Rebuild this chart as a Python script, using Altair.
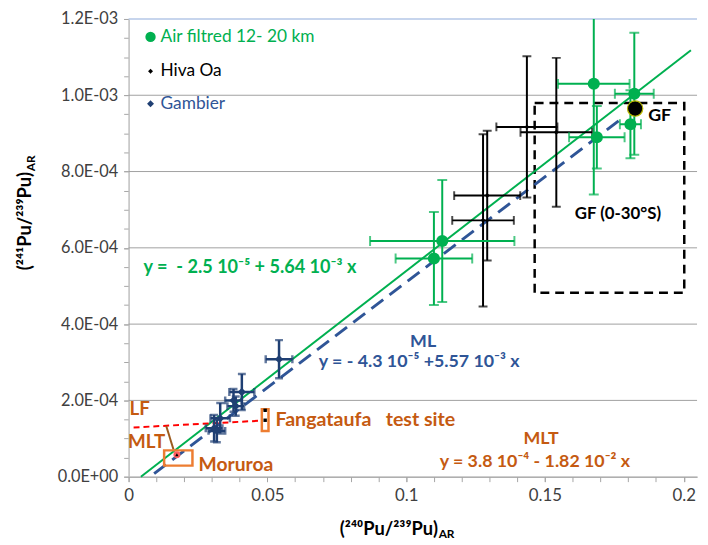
import altair as alt
import pandas as pd

FONT = "Lato"

# ---------------- data ----------------
# Air filtred 12-20 km (green)
green_x = [0.113, 0.110, 0.1676, 0.1687, 0.1822, 0.1808]
green_y = [6.18e-4, 5.72e-4, 1.030e-3, 8.90e-4, 1.004e-3, 9.24e-4]
green_xerr = [0.026, 0.0138, 0.0129, 0.0100, 0.0070, 0.0038]
green_yerr = [1.6e-4, 1.22e-4, 2.9e-4, 8.2e-5, 1.6e-4, 8.9e-5]

# Hiva Oa (black)
hiva_x = [0.1292, 0.1277, 0.1435, 0.1541]
hiva_y = [7.37e-4, 6.72e-4, 9.17e-4, 9.03e-4]
hiva_xerr = [0.0119, 0.0111, 0.0110, 0.0129]
hiva_yerr = [1.70e-4, 2.26e-4, 1.85e-4, 1.95e-4]

# Gambier (dark blue)
gam_x = [0.0542, 0.0408, 0.0386, 0.0378, 0.0330, 0.0308, 0.0318]
gam_y = [3.08e-4, 2.22e-4, 1.85e-4, 2.00e-4, 1.53e-4, 1.27e-4, 1.20e-4]
gam_xerr = [0.0048, 0.0045, 0.0030, 0.0030, 0.0035, 0.0030, 0.0030]
gam_yerr = [5.0e-5, 4.7e-5, 2.5e-5, 3.0e-5, 4.0e-5, 3.5e-5, 3.0e-5]

# GF point
gf_x = [0.1825]
gf_y = [9.65e-4]

# Moruroa / Fangataufa
mur_x = [0.0174]
mur_y = [5.77e-5]
fang_x = [0.0492, 0.0492]
fang_y = [1.74e-4, 1.48e-4]
mur_box = [0.0128, 0.0230, 2.9e-5, 6.9e-5]
fang_box = [0.0480, 0.0504, 1.20e-4, 1.77e-4]
gf_box = [0.1463, 0.2002, 4.82e-4, 9.80e-4]

# fitted lines (end points)
green_line_x = [0.00443, 0.2026]
green_line_y = [0.0, 1.118e-3]
blue_line_x = [0.0092, 0.178]
blue_line_y = [8e-6, 9.41e-4]
red_line_x = [0.0018, 0.048]
red_line_y = [1.29e-4, 1.47e-4]
brown_line_x = [0.01356, 0.0162]
brown_line_y = [1.327e-4, 7.06e-5]

# axes
x_minor = [round(i * 0.01, 2) for i in range(0, 21)]
x_major = [0, 0.05, 0.1, 0.15, 0.2]
y_minor = [round(i * 5e-5, 6) for i in range(0, 25)]
y_major = [0, 2e-4, 4e-4, 6e-4, 8e-4, 1e-3, 1.2e-3]
y_labels = ["0.0E+00", "2.0E-04", "4.0E-04", "6.0E-04", "8.0E-04", "1.0E-03", "1.2E-03"]
y_grid = [2e-4, 4e-4, 6e-4, 8e-4, 1e-3]
y_top = [1.2e-3]

X_DOM = [0, 0.2048]
Y_DOM = [0, 0.0012]

GREEN = "#00B050"
BLUE = "#1F3F73"
BLUE_LINE = "#2F5597"
BROWN = "#C55A11"
ORANGE = "#ED7D31"
AX = "#A6A6A6"

xs = alt.Scale(domain=X_DOM, nice=False, zero=False)
ys = alt.Scale(domain=Y_DOM, nice=False, zero=False)

# --------------- helpers ----------------
def err_frames(xv, yv, xe, ye):
    d = pd.DataFrame({"x": xv, "y": yv, "xe": xe, "ye": ye})
    d["xlo"] = d.x - d.xe
    d["xhi"] = d.x + d.xe
    d["ylo"] = d.y - d.ye
    d["yhi"] = d.y + d.ye
    return d


def errbars(d, color, width=2, cap=9):
    base = alt.Chart(d)
    v = base.mark_rule(color=color, strokeWidth=width, clip=True).encode(
        x=alt.X("x:Q", scale=xs), y=alt.Y("ylo:Q", scale=ys), y2="yhi:Q")
    h = base.mark_rule(color=color, strokeWidth=width, clip=True).encode(
        x=alt.X("xlo:Q", scale=xs), x2="xhi:Q", y=alt.Y("y:Q", scale=ys))
    caps_v = pd.concat([
        pd.DataFrame({"cx": d.x, "cy": d.ylo}),
        pd.DataFrame({"cx": d.x, "cy": d.yhi})])
    caps_h = pd.concat([
        pd.DataFrame({"cx": d.xlo, "cy": d.y}),
        pd.DataFrame({"cx": d.xhi, "cy": d.y})])
    cv = alt.Chart(caps_v).mark_tick(color=color, orient="horizontal", size=cap,
                                     thickness=width, clip=True).encode(
        x=alt.X("cx:Q", scale=xs), y=alt.Y("cy:Q", scale=ys))
    ch = alt.Chart(caps_h).mark_tick(color=color, orient="vertical", size=cap,
                                     thickness=width, clip=True).encode(
        x=alt.X("cx:Q", scale=xs), y=alt.Y("cy:Q", scale=ys))
    return [v, h, cv, ch]


def line(xv, yv, color, width=2, dash=None):
    kw = dict(color=color, strokeWidth=width)
    if dash:
        kw["strokeDash"] = dash
    return alt.Chart(pd.DataFrame({"x": xv, "y": yv})).mark_line(**kw).encode(
        x=alt.X("x:Q", scale=xs), y=alt.Y("y:Q", scale=ys))


def box(b, color, width=2, dash=None):
    kw = dict(stroke=color, strokeWidth=width, fill=None, fillOpacity=0)
    if dash:
        kw["strokeDash"] = dash
    return alt.Chart(pd.DataFrame({"x1": [b[0]], "x2": [b[1]], "y1": [b[2]], "y2": [b[3]]})).mark_rect(**kw).encode(
        x=alt.X("x1:Q", scale=xs), x2="x2:Q", y=alt.Y("y1:Q", scale=ys), y2="y2:Q")


def pts(xv, yv, color, shape="circle", size=100, stroke=None, sw=0):
    kw = dict(shape=shape, size=size, fill=color, opacity=1, filled=True)
    if stroke:
        kw.update(stroke=stroke, strokeWidth=sw)
    return alt.Chart(pd.DataFrame({"x": xv, "y": yv})).mark_point(**kw).encode(
        x=alt.X("x:Q", scale=xs), y=alt.Y("y:Q", scale=ys))


def txt(x, y, s, color="black", size=15, bold=True, align="left", angle=0):
    return alt.Chart(pd.DataFrame({"x": [x], "y": [y], "t": [s]})).mark_text(
        color=color, fontSize=size, fontWeight="bold" if bold else "normal",
        align=align, baseline="middle", font=FONT, angle=angle).encode(
        x=alt.X("x:Q", scale=xs), y=alt.Y("y:Q", scale=ys), text="t:N")


# --------------- axes / grid ----------------
lab_expr_y = "[" + ",".join(f"'{s}'" for s in y_labels) + "][round(datum.value/0.0002)]"
dummy = pd.DataFrame({"x": [0.0], "y": [0.0]})

minor_axes = alt.Chart(dummy).mark_point(opacity=0).encode(
    x=alt.X("x:Q", scale=xs, axis=alt.Axis(
        values=x_minor, labels=False, grid=False, title=None, orient="bottom",
        tickSize=5, tickColor=AX, domainColor=AX)),
    y=alt.Y("y:Q", scale=ys, axis=alt.Axis(
        values=y_minor, labels=False, grid=False, title=None, orient="left",
        tickSize=5, tickColor=AX, domainColor="#BFBFBF")),
)

major_axes = alt.Chart(dummy).mark_point(opacity=0).encode(
    x=alt.X("x:Q", scale=xs, axis=alt.Axis(
        values=x_major, format="~g", grid=False, title=None, orient="bottom",
        tickSize=5, tickColor=AX, domainColor=AX,
        labelFont=FONT, labelFontSize=17, labelColor="#404040",
        labelPadding=6, labelFlush=False, labelOverlap=False)),
    y=alt.Y("y:Q", scale=ys, axis=alt.Axis(
        values=y_major, labelExpr=lab_expr_y, grid=False, title=None, orient="left",
        tickSize=5, tickColor=AX, domainColor="#BFBFBF",
        labelFont=FONT, labelFontSize=16.5, labelColor="#404040",
        labelPadding=6, labelFlush=False, labelOverlap=False)),
)

grid = alt.Chart(pd.DataFrame({"y": y_grid})).mark_rule(color="#A0A0A0", strokeWidth=1).encode(
    y=alt.Y("y:Q", scale=ys))
top = alt.Chart(pd.DataFrame({"y": y_top})).mark_rule(color="#B4C7E7", strokeWidth=1.5).encode(
    y=alt.Y("y:Q", scale=ys))

layers = [major_axes, grid, top]

# boxes and lines
layers.append(box(gf_box, "black", 2.5, [9, 6]))
layers.append(line(green_line_x, green_line_y, GREEN, 2))
layers.append(line(blue_line_x, blue_line_y, BLUE_LINE, 3, [15, 8]))
layers.append(line(red_line_x, red_line_y, "#FF0000", 2, [6, 4]))
layers.append(line(brown_line_x, brown_line_y, "#9C5A1E", 2))
layers.append(box(mur_box, ORANGE, 2.5))
layers.append(box(fang_box, ORANGE, 2.5))

# error bars and points
layers += errbars(err_frames(hiva_x, hiva_y, hiva_xerr, hiva_yerr), "black", 2, 9)
layers += errbars(err_frames(green_x, green_y, green_xerr, green_yerr), GREEN, 2, 10)
layers += errbars(err_frames(gam_x, gam_y, gam_xerr, gam_yerr), BLUE, 2.5, 8)
layers.append(pts(hiva_x, hiva_y, "black", "diamond", 25))
layers.append(pts(green_x, green_y, GREEN, "circle", 150))
layers.append(pts(gam_x, gam_y, BLUE, "diamond", 70))
layers.append(pts(gf_x, gf_y, "black", "circle", 240, "#B8B800", 1.2))
layers.append(pts(mur_x, mur_y, "#FF6060", "circle", 50))
layers.append(pts(mur_x, mur_y, "black", "triangle-up", 12))
layers.append(pts(fang_x, fang_y, "black", "square", 12))

# legend
layers.append(pts([0.0079], [1.153e-3], GREEN, "circle", 110))
layers.append(pts([0.0079], [1.063e-3], "black", "diamond", 25))
layers.append(pts([0.0079], [9.78e-4], BLUE, "diamond", 50))
layers.append(txt(0.0115, 1.153e-3, "Air filtred 12- 20 km", GREEN, 17.5, False))
layers.append(txt(0.0115, 1.063e-3, "Hiva Oa", "black", 17.5, False))
layers.append(txt(0.0115, 9.78e-4, "Gambier", BLUE_LINE, 17.5, False))

# annotations
layers.append(txt(0.1872, 9.45e-4, "GF", "black", 18))
layers.append(txt(0.1763, 6.88e-4, "GF (0-30°S)", "black", 17, True, "center"))
layers.append(txt(0.0054, 5.46e-4, "y =\u00a0\u00a0- 2.5 10⁻⁵ + 5.64 10⁻³ x", GREEN, 18.3))
layers.append(txt(0.1061, 3.52e-4, "ML", BLUE_LINE, 18, True, "center"))
layers.append(txt(0.1047, 3.0e-4, "y = - 4.3 10⁻⁵ +5.57 10⁻³ x", BLUE_LINE, 18, True, "center"))
layers.append(txt(0.0040, 1.76e-4, "LF", BROWN, 19, True, "center"))
layers.append(txt(0.0065, 9.05e-5, "MLT", BROWN, 19, True, "center"))
layers.append(txt(0.0529, 1.474e-4, "Fangataufa\u00a0\u00a0\u00a0test site", BROWN, 19.8))
layers.append(txt(0.0252, 3.1e-5, "Moruroa", BROWN, 19.5))
layers.append(txt(0.1486, 9.8e-5, "MLT", BROWN, 18, True, "center"))
layers.append(txt(0.1464, 3.9e-5, "y = 3.8 10⁻⁴ - 1.82 10⁻² x", BROWN, 18, True, "center"))

# axis titles (built from text so the AR subscript can be drawn)
layers.append(txt(0.1115, -1.38e-4, "(²⁴⁰Pu/²³⁹Pu)", "black", 18.5, True, "right"))
layers.append(txt(0.1117, -1.50e-4, "AR", "black", 12, True, "left"))
layers.append(txt(-0.0374, 7.99e-4, "(²⁴¹Pu/²³⁹Pu)", "black", 18.5, True, "right", 270))
layers.append(txt(-0.0350, 8.01e-4, "AR", "black", 12, True, "left", 270))

main = alt.layer(*layers)

chart = alt.layer(minor_axes, main).resolve_scale(
    x="independent", y="independent"
).properties(
    width=575, height=463,
    autosize=alt.AutoSizeParams(type="none"),
    padding={"left": 122, "top": 8, "right": 3, "bottom": 66},
).configure_view(stroke=None)

chart.save("out.html", embed_options={"renderer": "svg", "actions": False})
